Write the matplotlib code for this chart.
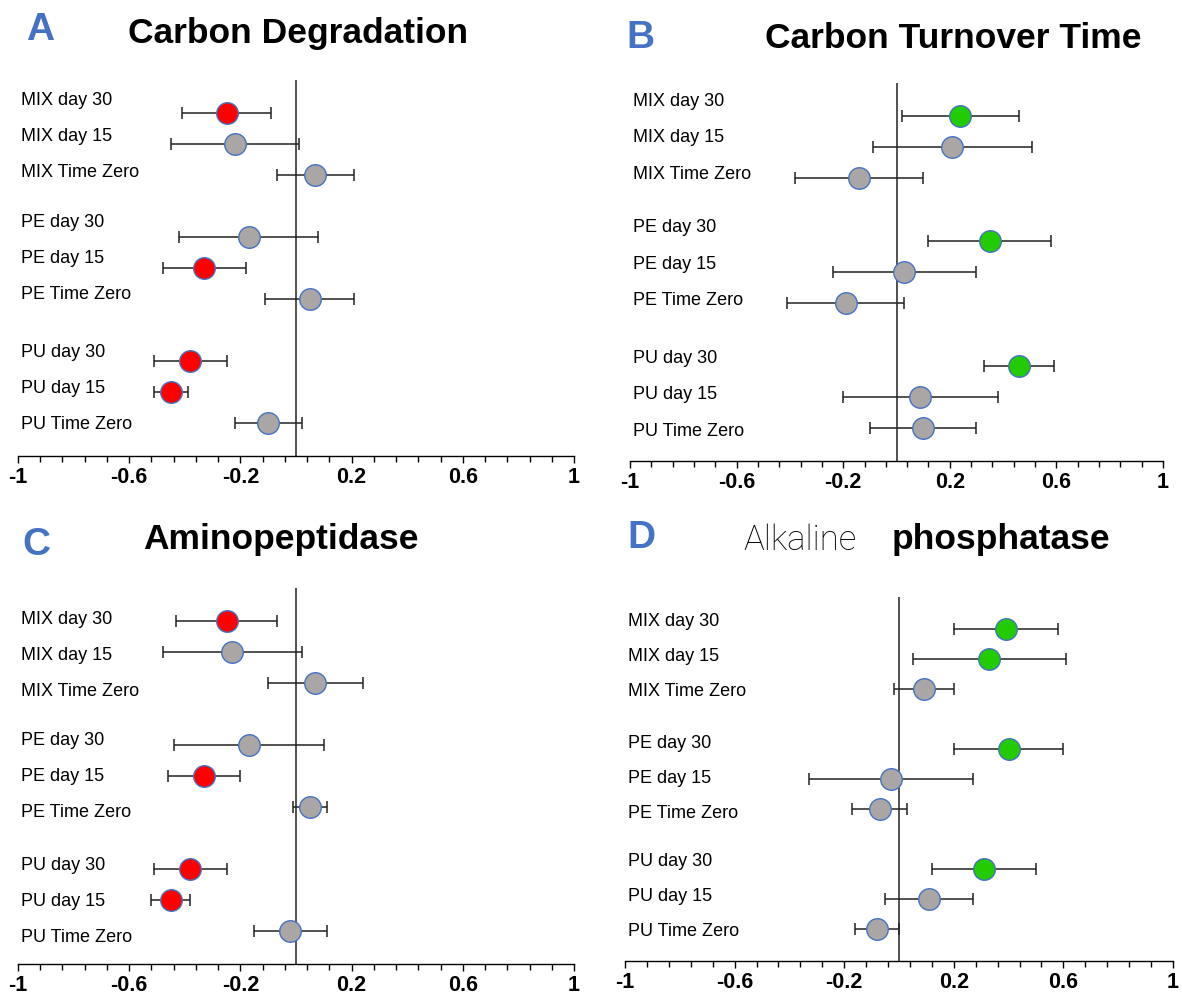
import matplotlib
matplotlib.use("Agg")
import matplotlib.pyplot as plt
import numpy as np

plt.rcParams['font.family'] = ['Liberation Sans', 'DejaVu Sans']

# rows, top to bottom
labels = ["MIX day 30", "MIX day 15", "MIX Time Zero",
          "PE day 30", "PE day 15", "PE Time Zero",
          "PU day 30", "PU day 15", "PU Time Zero"]

# A  Carbon Degradation
a_mean = [-0.25, -0.22, 0.07, -0.17, -0.33, 0.05, -0.38, -0.45, -0.10]
a_err  = [0.16, 0.23, 0.14, 0.25, 0.15, 0.16, 0.13, 0.06, 0.12]
a_sig  = [1, 0, 0, 0, 1, 0, 1, 1, 0]
# B  Carbon Turnover Time
b_mean = [0.24, 0.21, -0.14, 0.35, 0.03, -0.19, 0.46, 0.09, 0.10]
b_err  = [0.22, 0.30, 0.24, 0.23, 0.27, 0.22, 0.13, 0.29, 0.20]
b_sig  = [1, 0, 0, 1, 0, 0, 1, 0, 0]
# C  Aminopeptidase
c_mean = [-0.25, -0.23, 0.07, -0.17, -0.33, 0.05, -0.38, -0.45, -0.02]
c_err  = [0.18, 0.25, 0.17, 0.27, 0.13, 0.06, 0.13, 0.07, 0.13]
c_sig  = [1, 0, 0, 0, 1, 0, 1, 1, 0]
# D  Alkaline phosphatase
d_mean = [0.39, 0.33, 0.09, 0.40, -0.03, -0.07, 0.31, 0.11, -0.08]
d_err  = [0.19, 0.28, 0.11, 0.20, 0.30, 0.10, 0.19, 0.16, 0.08]
d_sig  = [1, 1, 0, 1, 0, 0, 1, 0, 0]

tick_vals = [-1, -0.6, -0.2, 0.2, 0.6, 1]
tick_text = ["-1", "-0.6", "-0.2", "0.2", "0.6", "1"]

GRAY = "#aaa6a6"
EDGE = "#4472c4"
BLUE = "#4472c4"

fig = plt.figure(figsize=(11.82, 9.96), dpi=100)
W, H = 1182.0, 996.0

def make_ax(x0, x1, ytop, ybot):
    return fig.add_axes([x0 / W, 1 - ybot / H, (x1 - x0) / W, (ybot - ytop) / H])

def panel(ax, mean, err, sig, hi, lab_start):
    ypos = np.array([0, 1, 2, 4, 5, 6, 8, 9, 10])
    ax.axvline(0, color="#333333", lw=1.2, zorder=1)
    for y, m, e, s in zip(ypos, mean, err, sig):
        fc = hi if s else GRAY
        ax.errorbar(m, y, xerr=e, fmt='none', ecolor="#222222", elinewidth=1.1,
                    capsize=4, capthick=1.1, zorder=2)
        ax.plot(m, y, 'o', ms=15.5, mfc=fc, mec=EDGE, mew=1.0, zorder=3)
    # labels drawn a bit apart from the rows, like the original
    for g in range(3):
        for k in range(3):
            ax.text(0.005, lab_start[g] + 1.16 * k, labels[3 * g + k],
                    transform=ax.get_yaxis_transform(), ha='left', va='center',
                    fontsize=13)
    ax.set_xlim(-1, 1)
    ax.set_ylim(11.05, -1.05)
    for sp in ["top", "left", "right"]:
        ax.spines[sp].set_visible(False)
    ax.spines["bottom"].set_linewidth(1.0)
    ax.set_yticks([])
    ax.set_xticks(tick_vals)
    ax.set_xticklabels(tick_text, fontsize=15.5, fontweight='bold')
    ax.set_xticks(np.round(np.arange(-1, 1.0001, 0.08), 2), minor=True)
    ax.tick_params(axis='x', which='major', length=5, width=1, pad=3)
    ax.tick_params(axis='x', which='minor', length=4, width=1)

red = "#ff0000"
green = "#22cc00"

ax_a = make_ax(18, 574, 80, 456)
panel(ax_a, a_mean, a_err, a_sig, red, [-0.39, 3.54, 7.72])
ax_b = make_ax(630, 1163, 83, 461)
panel(ax_b, b_mean, b_err, b_sig, green, [-0.45, 3.59, 7.77])
ax_c = make_ax(18, 574, 588, 964)
panel(ax_c, c_mean, c_err, c_sig, red, [-0.03, 3.85, 7.87])
ax_d = make_ax(625, 1173, 597, 961)
panel(ax_d, d_mean, d_err, d_sig, green, [-0.23, 3.82, 7.75])

def ftext(x, y, s, **kw):
    fig.text(x / W, 1 - y / H, s, ha='center', va='center', **kw)

ftext(40, 30, "A", fontsize=28, fontweight='bold', color=BLUE)
ftext(298, 33, "Carbon Degradation", fontsize=25.5, fontweight='bold')
ftext(640, 38, "B", fontsize=28, fontweight='bold', color=BLUE)
ftext(953, 38, "Carbon Turnover Time", fontsize=25.5, fontweight='bold')
ftext(36, 545, "C", fontsize=28, fontweight='bold', color=BLUE)
ftext(281, 540, "Aminopeptidase", fontsize=25.5, fontweight='bold')
ftext(641, 538, "D", fontsize=28, fontweight='bold', color=BLUE)
ftext(800, 540, "Alkaline", fontsize=25, family=['Roboto', 'DejaVu Sans'], fontweight='light')
ftext(1001, 540, "phosphatase", fontsize=25.5, fontweight='bold')

fig.savefig("out.png", dpi=100)
